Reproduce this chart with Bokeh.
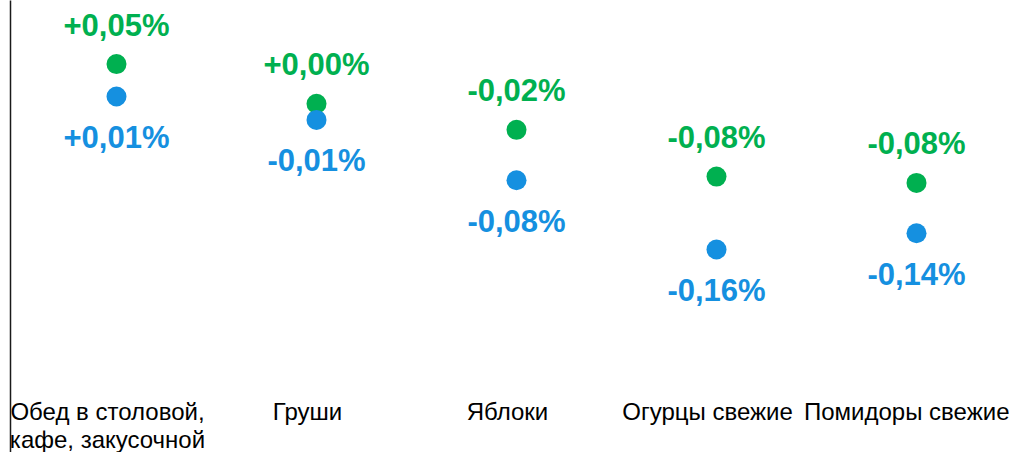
from bokeh.plotting import figure
from bokeh.models import ColumnDataSource, FixedTicker, Range1d
from bokeh.core.properties import value
from bokeh.embed import file_html
from bokeh.resources import INLINE

categories = ["Обед в столовой,\nкафе, закусочной", "Груши", "Яблоки",
              "Огурцы свежие", "Помидоры свежие"]
green_values = [0.046, 0.002, -0.027, -0.079, -0.086]
blue_values = [0.010, -0.016, -0.083, -0.160, -0.142]
green_labels = ["+0,05%", "+0,00%", "-0,02%", "-0,08%", "-0,08%"]
blue_labels = ["+0,01%", "-0,01%", "-0,08%", "-0,16%", "-0,14%"]

GREEN = "#00B050"
BLUE = "#1590E0"

xs = list(range(len(categories)))
green_src = ColumnDataSource(dict(x=xs, y=green_values, t=green_labels))
blue_src = ColumnDataSource(dict(x=xs, y=blue_values, t=blue_labels))

X0, X1 = -0.53, 4.465
p = figure(width=1009, height=452, output_backend="svg", toolbar_location=None,
           x_range=Range1d(X0, X1), y_range=Range1d(-0.3856, 0.1167),
           min_border_left=10, min_border_right=0, min_border_top=0, min_border_bottom=0)
p.extra_x_ranges = {"lab": Range1d(X0 + 0.045, X1 + 0.045)}
p.outline_line_color = None
p.xgrid.visible = False
p.ygrid.visible = False
p.background_fill_color = "white"
p.border_fill_color = "white"

# y axis: only the line
p.yaxis.ticker = FixedTicker(ticks=[])
p.yaxis.major_tick_line_color = None
p.yaxis.minor_tick_line_color = None
p.yaxis.major_label_text_font_size = "0px"
p.yaxis.axis_line_color = "#1a1a1a"
p.yaxis.axis_line_width = 1.5

# x axis: category labels
xa = p.xaxis[0]
xa.x_range_name = "lab"
xa.ticker = FixedTicker(ticks=xs)
xa.major_label_overrides = {i: c for i, c in enumerate(categories)}
xa.fixed_location = -0.3135
xa.axis_line_color = None
xa.major_tick_line_color = None
xa.minor_tick_line_color = None
xa.major_label_standoff = 4
xa.major_label_text_font = "Liberation Sans"
xa.major_label_text_font_size = "24px"
xa.major_label_text_line_height = 1.05
xa.major_label_text_color = "#000000"

p.scatter("x", "y", source=green_src, size=20, color=GREEN, line_color=None)
p.scatter("x", "y", source=blue_src, size=20, color=BLUE, line_color=None)

p.text("x", "y", text="t", source=green_src, y_offset=-39, text_align="center",
       text_baseline="middle", text_font=value("Liberation Sans"),
       text_font_style="bold", text_font_size="31px", text_color=GREEN)
p.text("x", "y", text="t", source=blue_src, y_offset=41, text_align="center",
       text_baseline="middle", text_font=value("Liberation Sans"),
       text_font_style="bold", text_font_size="31px", text_color=BLUE)

open("out.html", "w").write(file_html(p, INLINE))
